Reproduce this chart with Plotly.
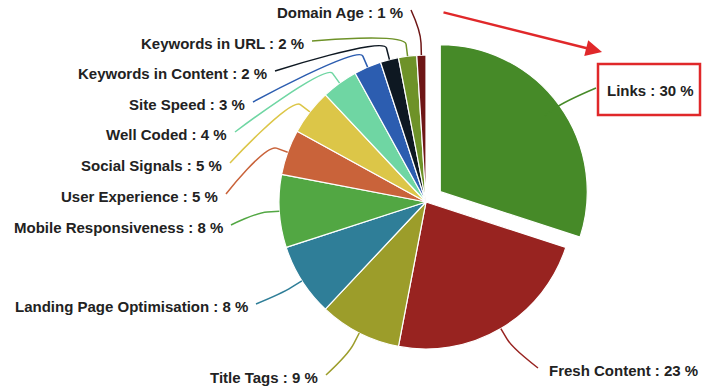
import math
import plotly.graph_objects as go

# ---- data ----
factors = ["Links", "Fresh Content", "Title Tags", "Landing Page Optimisation",
           "Mobile Responsiveness", "User Experience", "Social Signals", "Well Coded",
           "Site Speed", "Keywords in Content", "Keywords in URL", "Domain Age"]
shares = [30, 23, 9, 8, 8, 5, 5, 4, 3, 2, 2, 1]

# ---- styles ----
colors = ["#468a28", "#982320", "#9c9d2a", "#2f7e98", "#52a743", "#c9633a",
          "#dcc648", "#6fd6a3", "#2c5db0", "#0e1822", "#6e9228", "#6e1616"]
pulls = [0.12] + [0] * 11

W, H = 707, 388
CX, CY, R = 426, 202, 147
box_half = R * (1 + max(pulls))

# label anchors (layout): (x of text edge, y centre, side)
label_anchors = [(607, 90, "L"), (549, 370, "L"), (318, 377, "R"), (248, 306, "R"),
                 (223, 227, "R"), (218, 196, "R"), (222, 165, "R"), (227, 134, "R"),
                 (245, 104, "R"), (267, 73, "R"), (304, 43, "R"), (403, 12, "R")]

fig = go.Figure()
fig.add_trace(go.Pie(
    labels=factors, values=shares, sort=False, direction="clockwise", rotation=0,
    marker=dict(colors=colors, line=dict(color="white", width=1.2)),
    pull=pulls, textinfo="none", hoverinfo="skip", showlegend=False,
    domain=dict(x=[(CX - box_half) / W, (CX + box_half) / W],
                y=[1 - (CY + box_half) / H, 1 - (CY - box_half) / H]),
))

# invisible overlay axis in pixel units for labels & connectors
fig.add_trace(go.Scatter(x=[0, W], y=[0, H], mode="markers",
                         marker=dict(opacity=0), hoverinfo="skip", showlegend=False))

total = sum(shares)
shapes = []
annotations = []
cum = 0
for name, v, col, (lx, ly, side) in zip(factors, shares, colors, label_anchors):
    mid = (cum + v / 2) / total * 2 * math.pi
    cum += v
    dx, dy = math.sin(mid), -math.cos(mid)
    tx, ty = CX + R * dx, CY + R * dy
    bx, by = CX + (R + 12) * dx, CY + (R + 12) * dy
    c2x, c2y = 2 * bx - tx, 2 * by - ty
    sx = lx + 8 if side == "R" else lx - 11
    sy = ly - 2
    path = f"M {sx},{sy} C {sx},{sy} {c2x},{c2y} {bx},{by} L {tx},{ty}"
    shapes.append(dict(type="path", path=path, xref="x", yref="y",
                       line=dict(color=col, width=1.5), layer="above"))
    annotations.append(dict(
        x=lx + (2 if side == "R" else -2), y=ly, xref="x", yref="y", showarrow=False,
        text=f"<b>{name} : {v} %</b>",
        xanchor="right" if side == "R" else "left", yanchor="middle",
        font=dict(family="Liberation Sans, Arial, sans-serif", size=15, color="#222222"),
    ))

# highlight box and arrow
shapes.append(dict(type="rect", xref="x", yref="y", x0=598, x1=700, y0=64, y1=115,
                   line=dict(color="#e0282a", width=2.5), layer="above"))
annotations.append(dict(x=602, y=52, ax=442, ay=12, xref="x", yref="y",
                        axref="x", ayref="y", showarrow=True, text="",
                        arrowhead=2, arrowsize=1.3, arrowwidth=2.5,
                        arrowcolor="#e0282a", standoff=0))

fig.update_layout(
    width=W, height=H, margin=dict(l=0, r=0, t=0, b=0),
    paper_bgcolor="white", plot_bgcolor="rgba(0,0,0,0)",
    xaxis=dict(range=[0, W], visible=False, fixedrange=True),
    yaxis=dict(range=[H, 0], visible=False, fixedrange=True),
    shapes=shapes, annotations=annotations, hovermode=False,
)
fig.write_html("out.html", config={"displayModeBar": False},
               post_script="document.body.style.margin='0';document.body.style.padding='0';")
